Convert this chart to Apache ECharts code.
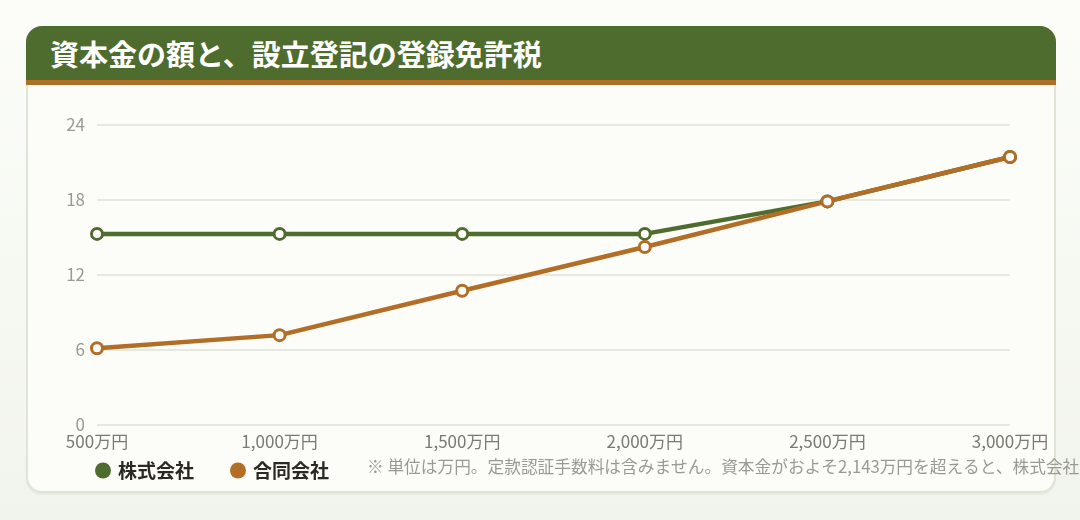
<!DOCTYPE html>
<html lang="ja">
<head>
    <meta charset="UTF-8">
    <title>資本金の額と、設立登記の登録免許税</title>
    <style>
        * { margin: 0; padding: 0; }
        html, body {
            width: 1080px;
            height: 520px;
            overflow: hidden;
            background: linear-gradient(#fcfdf9, #f1f4ec);
            font-family: "Noto Sans CJK JP", sans-serif;
        }
        .card {
            position: absolute;
            left: 26px;
            top: 26px;
            width: 1026px;
            height: 465px;
            background-color: #fcfdf9;
            border: 2px solid #dfe5d6;
            border-top: none;
            border-radius: 16px;
            box-shadow: 0 2px 0 #e6ebdf;
        }
        .card-head {
            position: absolute;
            left: -2px;
            top: 0;
            width: 1030px;
            height: 54px;
            background-color: #4e6c2d;
            border-bottom: 5px solid #b26d27;
            border-radius: 16px 16px 0 0;
            color: #fff;
            font-weight: bold;
            font-size: 29px;
            line-height: 54px;
            box-sizing: content-box;
        }
        .card-head span {
            position: absolute;
            left: 24px;
            top: 0;
        }
        #chart {
            position: absolute;
            left: 0;
            top: 0;
            width: 1080px;
            height: 520px;
        }
    </style>
</head>
<body>
    <div class="card">
        <div class="card-head"><span>資本金の額と、設立登記の登録免許税</span></div>
    </div>
    <div id="chart"></div>
    <script src="https://cdn.jsdelivr.net/npm/echarts@6/dist/echarts.min.js"></script>
    <script>
        // 資本金（万円）
        var capitals = ['500万円', '1,000万円', '1,500万円', '2,000万円', '2,500万円', '3,000万円'];
        // 登録免許税（万円）
        var kabushiki = [15.25, 15.25, 15.25, 15.25, 17.85, 21.4];
        var godo = [6.1, 7.15, 10.7, 14.2, 17.85, 21.4];
        var yTicks = [0, 6, 12, 18, 24];

        var note = '※ 単位は万円。定款認証手数料は含みません。資本金がおよそ2,143万円を超えると、株式会社と合同会社の登録免許税は同額になります。';

        var green = '#4e6c2d';
        var orange = '#b26d27';
        var font = 'Noto Sans CJK JP';

        function makeSeries(name, data, color) {
            return {
                name: name,
                type: 'line',
                data: data,
                symbol: 'circle',
                symbolSize: 11,
                showSymbol: true,
                animation: false,
                lineStyle: { color: color, width: 4.5 },
                itemStyle: { color: '#fff', borderColor: color, borderWidth: 3 },
                emphasis: { disabled: true }
            };
        }

        var myChart = echarts.init(document.getElementById('chart'));
        var option = {
            animation: false,
            grid: {
                left: 97,
                right: 70,
                top: 124.5,
                bottom: 95.5,
                containLabel: false
            },
            xAxis: {
                type: 'category',
                boundaryGap: false,
                data: capitals,
                axisLine: { show: false },
                axisTick: { show: false },
                axisLabel: {
                    color: '#7a7a72',
                    fontSize: 17,
                    fontFamily: font,
                    margin: 9
                }
            },
            yAxis: {
                type: 'value',
                min: yTicks[0],
                max: yTicks[yTicks.length - 1],
                interval: 6,
                axisLine: { show: false },
                axisTick: { show: false },
                axisLabel: {
                    color: '#9a9a92',
                    fontSize: 17,
                    fontFamily: font,
                    margin: 12
                },
                splitLine: {
                    lineStyle: { color: '#e6e9df', width: 2 }
                }
            },
            legend: {
                left: 90,
                top: 456,
                itemWidth: 16,
                itemHeight: 16,
                itemGap: 36,
                icon: 'circle',
                selectedMode: false,
                textStyle: {
                    color: '#2a2a22',
                    fontSize: 19,
                    fontWeight: 'bold',
                    fontFamily: font,
                    padding: [0, 0, 0, 2]
                },
                data: [
                    { name: '株式会社', itemStyle: { color: green, borderWidth: 0 } },
                    { name: '合同会社', itemStyle: { color: orange, borderWidth: 0 } }
                ]
            },
            graphic: [{
                type: 'text',
                left: 367,
                top: 458,
                style: {
                    text: note,
                    fill: '#9a9a94',
                    font: '16.7px "Noto Sans CJK JP"'
                }
            }],
            series: [
                makeSeries('株式会社', kabushiki, green),
                makeSeries('合同会社', godo, orange)
            ]
        };
        myChart.setOption(option);
    </script>
</body>
</html>
